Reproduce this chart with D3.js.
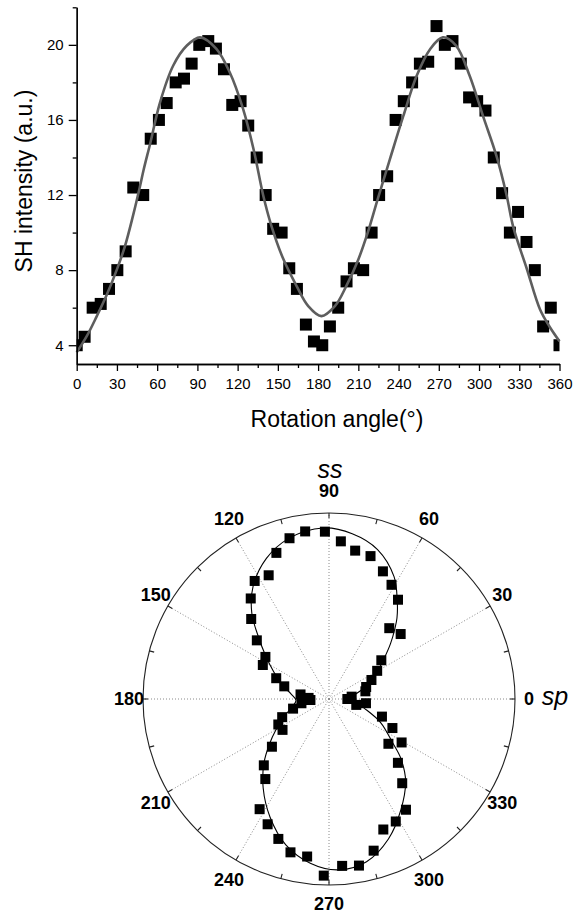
<!DOCTYPE html>
<html>
<head>
<meta charset="utf-8">
<script src="https://cdn.jsdelivr.net/npm/d3@7"></script>
<style>
  body { margin: 0; background: #fff; }
  svg { display: block; font-family: Arial, "Liberation Sans", sans-serif; }
</style>
</head>
<body>
<div id="chart"></div>
<script>
// measured points (degrees, SH intensity)
var angles = [0, 5.9, 11.9, 17.9, 24.1, 30.3, 36.5, 42.2, 49.6, 55.2,
  61.3, 67.1, 73.8, 80.0, 85.7, 91.4, 98.1, 103.8, 109.8, 116.0,
  122.2, 127.9, 134.2, 140.9, 146.5, 152.8, 158.5, 164.2, 170.9, 176.9,
  183.1, 188.8, 195.0, 201.2, 206.7, 213.6, 219.9, 225.5, 231.5, 237.8,
  243.9, 250.1, 255.9, 262.1, 268.3, 274.5, 280.2, 286.4, 292.6, 298.6,
  304.8, 311.0, 317.2, 323.0, 329.1, 335.4, 341.6, 347.8, 353.5, 360];
var intensity = [4.0, 4.45, 6.0, 6.2, 7.0, 8.0, 9.0, 12.4, 12.0, 15.0,
  16.0, 16.9, 18.0, 18.2, 19.0, 20.0, 20.2, 19.8, 18.7, 16.8,
  17.0, 15.7, 14.0, 12.0, 10.2, 10.0, 8.1, 7.0, 5.1, 4.2,
  4.0, 5.0, 6.0, 7.4, 8.1, 8.0, 10.0, 12.0, 13.0, 16.0,
  17.0, 18.0, 19.0, 19.1, 21.0, 20.0, 20.2, 19.0, 17.2, 17.0,
  16.5, 14.0, 12.1, 10.0, 11.1, 9.5, 8.0, 5.0, 6.0, 4.0];

// fitted curve
var fitAngles = [0, 7.5, 15, 22.5, 30, 36, 42, 47, 50, 55, 62, 72, 82, 92,
  104, 114, 124, 132, 139, 145, 154, 164, 172.5, 182.5, 192.5, 201, 210,
  217, 224.5, 233.5, 243.5, 253.5, 263.5, 273, 283, 293, 303, 313, 320.5,
  325.5, 335.5, 345.5, 352.5, 360];
var fitValues = [3.62, 4.48, 5.55, 6.7, 8.04, 9.28, 10.9, 12.4, 13.37, 14.8, 16.9, 18.9, 19.95, 20.4,
  19.8, 18.55, 16.6, 14.4, 12.0, 10.4, 8.6, 7.15, 6.1, 5.55, 6.08, 7.15, 8.57,
  10.0, 11.8, 13.9, 16.2, 18.35, 19.77, 20.4, 19.95, 18.35, 16.2, 14.08, 12.0,
  10.3, 8.1, 5.9, 5.0, 4.21];

var xTicks = [0, 30, 60, 90, 120, 150, 180, 210, 240, 270, 300, 330, 360];
var xMinorTicks = [15, 45, 75, 105, 135, 165, 195, 225, 255, 285, 315, 345];
var yTicks = [4, 8, 12, 16, 20];
var yMinorTicks = [6, 10, 14, 18, 22];
var polarAngles = [0, 30, 60, 90, 120, 150, 180, 210, 240, 270, 300, 330];

var W = 576, H = 915;
var svg = d3.select("#chart").append("svg")
  .attr("width", W)
  .attr("height", H);

// ---------- top: cartesian plot ----------
var x = d3.scaleLinear().domain([0, 360]).range([76.7, 559.5]);
var y = d3.scaleLinear().domain([3, 22]).range([364, 7.3]);

svg.append("clipPath").attr("id", "plotClip")
  .append("rect")
  .attr("x", x(0)).attr("y", 0)
  .attr("width", x(360) - x(0)).attr("height", y(3));

var pts = angles.map(function(a, i) { return { a: a, v: intensity[i] }; });
var fit = fitAngles.map(function(a, i) { return { a: a, v: fitValues[i] }; });

var plot = svg.append("g");

plot.append("g")
  .attr("clip-path", "url(#plotClip)")
  .selectAll("rect")
  .data(pts)
  .enter()
  .append("rect")
  .attr("x", function(d) { return x(d.a) - 6; })
  .attr("y", function(d) { return y(d.v) - 6; })
  .attr("width", 12)
  .attr("height", 12)
  .attr("fill", "#000");

plot.append("path")
  .datum(fit)
  .attr("fill", "none")
  .attr("stroke", "#5e5e5e")
  .attr("stroke-width", 2.6)
  .attr("d", d3.line()
    .x(function(d) { return x(d.a); })
    .y(function(d) { return y(d.v); })
    .curve(d3.curveCatmullRom));

function styleAxis(g) {
  g.selectAll("path, line").attr("stroke", "#000").attr("stroke-width", 1.3);
  g.selectAll("text").attr("font-size", 15).attr("fill", "#000")
    .attr("font-family", "Arial, 'Liberation Sans', sans-serif");
}

plot.append("g")
  .attr("transform", "translate(0," + y(3) + ")")
  .call(d3.axisBottom(x).tickValues(xTicks).tickSize(7).tickSizeOuter(0).tickPadding(7)
    .tickFormat(d3.format("d")))
  .call(styleAxis);
plot.append("g")
  .attr("transform", "translate(0," + y(3) + ")")
  .call(d3.axisBottom(x).tickValues(xMinorTicks).tickSize(4).tickSizeOuter(0).tickFormat(""))
  .call(styleAxis);

plot.append("g")
  .attr("transform", "translate(" + x(0) + ",0)")
  .call(d3.axisLeft(y).tickValues(yTicks).tickSize(8).tickSizeOuter(0).tickPadding(5))
  .call(styleAxis);
plot.append("g")
  .attr("transform", "translate(" + x(0) + ",0)")
  .call(d3.axisLeft(y).tickValues(yMinorTicks).tickSize(4).tickSizeOuter(0).tickFormat(""))
  .call(styleAxis);

plot.append("text")
  .attr("x", 337)
  .attr("y", 426.5)
  .attr("text-anchor", "middle")
  .attr("font-size", 23)
  .text("Rotation angle(\u00B0)");

plot.append("text")
  .attr("transform", "translate(32,181) rotate(-90)")
  .attr("text-anchor", "middle")
  .attr("font-size", 23)
  .text("SH intensity (a.u.)");

// ---------- bottom: polar plot ----------
var cx = 329, cy = 699, R = 186;
var r = d3.scaleLinear().domain([2, 22]).range([0, R]);
var rad = function(deg) { return deg * Math.PI / 180; };

var polar = svg.append("g").attr("transform", "translate(" + cx + "," + cy + ")");

polar.selectAll(".spoke")
  .data(polarAngles)
  .enter()
  .append("line")
  .attr("class", "spoke")
  .attr("x1", 0).attr("y1", 0)
  .attr("x2", function(d) { return R * Math.cos(rad(d)); })
  .attr("y2", function(d) { return -R * Math.sin(rad(d)); })
  .attr("stroke", "#8a8a8a")
  .attr("stroke-width", 1)
  .attr("stroke-dasharray", "1,2");

polar.append("circle")
  .attr("r", R)
  .attr("fill", "none")
  .attr("stroke", "#222")
  .attr("stroke-width", 1.1);

polar.selectAll(".ptick")
  .data(d3.range(0, 360, 15))
  .enter()
  .append("line")
  .attr("class", "ptick")
  .attr("x1", function(d) { return R * Math.cos(rad(d)); })
  .attr("y1", function(d) { return -R * Math.sin(rad(d)); })
  .attr("x2", function(d) { return (R - 5) * Math.cos(rad(d)); })
  .attr("y2", function(d) { return -(R - 5) * Math.sin(rad(d)); })
  .attr("stroke", "#222")
  .attr("stroke-width", 1.1);

polar.append("path")
  .datum(fit)
  .attr("fill", "none")
  .attr("stroke", "#000")
  .attr("stroke-width", 1.1)
  .attr("d", d3.lineRadial()
    .angle(function(d) { return Math.PI / 2 - rad(d.a); })
    .radius(function(d) { return r(d.v); })
    .curve(d3.curveCatmullRom));

polar.selectAll(".pmark")
  .data(pts)
  .enter()
  .append("rect")
  .attr("class", "pmark")
  .attr("x", function(d) { return r(d.v) * Math.cos(rad(d.a)) - 5; })
  .attr("y", function(d) { return -r(d.v) * Math.sin(rad(d.a)) - 5; })
  .attr("width", 10)
  .attr("height", 10)
  .attr("fill", "#000");

polar.selectAll(".plabel")
  .data(polarAngles)
  .enter()
  .append("text")
  .attr("class", "plabel")
  .attr("x", function(d) { return 200 * Math.cos(rad(d)); })
  .attr("y", function(d) { return -(d === 270 ? 204.5 : 208) * Math.sin(rad(d)); })
  .attr("dy", "0.36em")
  .attr("text-anchor", "middle")
  .attr("font-size", 18)
  .attr("font-weight", "bold")
  .text(function(d) { return d; });

polar.append("text")
  .attr("x", 1)
  .attr("y", 478.3 - cy)
  .attr("text-anchor", "middle")
  .attr("font-size", 25)
  .attr("font-style", "italic")
  .text("ss");

polar.append("text")
  .attr("x", 541.7 - cx)
  .attr("y", 704.7 - cy)
  .attr("font-size", 25)
  .attr("font-style", "italic")
  .text("sp");
</script>
</body>
</html>
